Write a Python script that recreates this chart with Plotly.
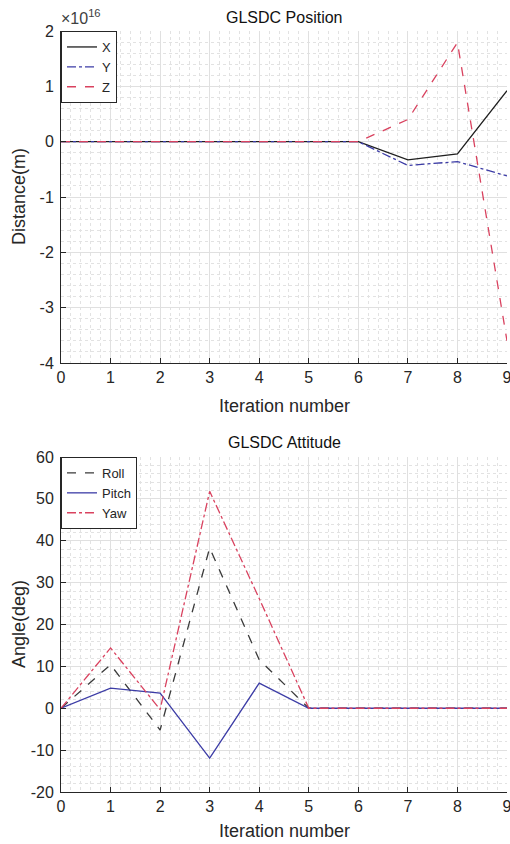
import plotly.graph_objects as go

iterations = [0, 1, 2, 3, 4, 5, 6, 7, 8, 9]

# Position (units of 1e16 m)
pos_x = [0, 0, 0, 0, 0, 0, 0, -0.33, -0.22, 0.92]
pos_y = [0, 0, 0, 0, 0, 0, 0, -0.43, -0.36, -0.62]
pos_z = [0, 0, 0, 0, 0, 0, 0, 0.40, 1.79, -3.60]

# Attitude (deg)
roll = [0, 10.4, -5.2, 38.3, 11.6, 0, 0, 0, 0, 0]
pitch = [0, 4.8, 3.6, -11.9, 6.0, 0, 0, 0, 0, 0]
yaw = [0, 14.4, -0.3, 51.8, 26.2, 0, 0, 0, 0, 0]

pos_ticks = [-4, -3, -2, -1, 0, 1, 2]
pos_tick_labels = ["-4", "-3", "-2", "-1", "0", "1", "2"]
att_ticks = [-20, -10, 0, 10, 20, 30, 40, 50, 60]
att_tick_labels = ["-20", "-10", "0", "10", "20", "30", "40", "50", "60"]
x_ticks = iterations
x_tick_labels = ["0", "1", "2", "3", "4", "5", "6", "7", "8", "9"]

BLACK = "#1f1f1f"
BLUE = "#3c3ca6"
RED = "#d9425f"
GRAY = "#3a3a3a"
FONT = "Liberation Sans, Arial, sans-serif"

fig = go.Figure()

fig.add_trace(go.Scatter(x=iterations, y=pos_x, name="X", mode="lines",
                         line=dict(color=BLACK, width=1.3, dash="solid"),
                         xaxis="x", yaxis="y", legend="legend"))
fig.add_trace(go.Scatter(x=iterations, y=pos_y, name="Y", mode="lines",
                         line=dict(color=BLUE, width=1.3, dash="dashdot"),
                         xaxis="x", yaxis="y", legend="legend"))
fig.add_trace(go.Scatter(x=iterations, y=pos_z, name="Z", mode="lines",
                         line=dict(color=RED, width=1.3, dash="dash"),
                         xaxis="x", yaxis="y", legend="legend"))

fig.add_trace(go.Scatter(x=iterations, y=roll, name="Roll", mode="lines",
                         line=dict(color=GRAY, width=1.3, dash="dash"),
                         xaxis="x2", yaxis="y2", legend="legend2"))
fig.add_trace(go.Scatter(x=iterations, y=pitch, name="Pitch", mode="lines",
                         line=dict(color=BLUE, width=1.3, dash="solid"),
                         xaxis="x2", yaxis="y2", legend="legend2"))
fig.add_trace(go.Scatter(x=iterations, y=yaw, name="Yaw", mode="lines",
                         line=dict(color=RED, width=1.3, dash="dashdot"),
                         xaxis="x2", yaxis="y2", legend="legend2"))

W, H = 510, 844
x0, x1 = 61 / W, 507 / W
top_dom = [(H - 363) / H, (H - 31) / H]
bot_dom = [(H - 792) / H, (H - 457) / H]

common_axis = dict(
    showline=True, linecolor="#262626", linewidth=1,
    ticks="inside", ticklen=5, tickcolor="#262626",
    tickfont=dict(family=FONT, size=16, color="#262626"),
    showgrid=True, gridcolor="#e0e0e0", gridwidth=1,
    zeroline=False, mirror=False, automargin=False,
    ticklabeloverflow="allow", tickmode="array",
)

minor_x = dict(dtick=0.2, showgrid=True, gridcolor="#e2e2e2", griddash="dot", ticks="")

fig.update_layout(
    width=W, height=H,
    margin=dict(l=0, r=0, t=0, b=0),
    paper_bgcolor="white", plot_bgcolor="white",
    font=dict(family=FONT, color="#262626"),
    xaxis=dict(domain=[x0, x1], anchor="y", range=[0, 9],
               tickvals=x_ticks, ticktext=x_tick_labels, minor=minor_x, **common_axis),
    yaxis=dict(domain=top_dom, anchor="x", range=[-4, 2],
               tickvals=pos_ticks, ticktext=pos_tick_labels, ticklabelstandoff=3,
               minor=dict(dtick=0.2, showgrid=True, gridcolor="#e2e2e2", griddash="dot", ticks=""),
               **common_axis),
    xaxis2=dict(domain=[x0, x1], anchor="y2", range=[0, 9],
                tickvals=x_ticks, ticktext=x_tick_labels, minor=minor_x, **common_axis),
    yaxis2=dict(domain=bot_dom, anchor="x2", range=[-20, 60],
                tickvals=att_ticks, ticktext=att_tick_labels, ticklabelstandoff=3,
                minor=dict(dtick=2, showgrid=True, gridcolor="#e2e2e2", griddash="dot", ticks=""),
                **common_axis),
    legend=dict(x=x0, y=top_dom[1], xanchor="left", yanchor="top",
                bgcolor="white", bordercolor="#262626", borderwidth=1,
                font=dict(family=FONT, size=13, color="#262626"),
                tracegroupgap=0, itemwidth=30),
    legend2=dict(x=x0, y=bot_dom[1], xanchor="left", yanchor="top",
                 bgcolor="white", bordercolor="#262626", borderwidth=1,
                 font=dict(family=FONT, size=13, color="#262626"),
                 tracegroupgap=0, itemwidth=30),
    showlegend=True,
    annotations=[
        dict(text="GLSDC Position", x=(x0 + x1) / 2, y=(H - 17) / H, xref="paper", yref="paper",
             showarrow=False, font=dict(family=FONT, size=16, color="#111111"), xanchor="center", yanchor="middle"),
        dict(text="GLSDC Attitude", x=(x0 + x1) / 2, y=(H - 443) / H, xref="paper", yref="paper",
             showarrow=False, font=dict(family=FONT, size=16, color="#111111"), xanchor="center", yanchor="middle"),
        dict(text="×10<sup>16</sup>", x=59 / W, y=(H - 17) / H, xref="paper", yref="paper",
             showarrow=False, font=dict(family=FONT, size=16, color="#404040"), xanchor="left", yanchor="middle"),
        dict(text="Distance(m)", x=19 / W, y=(H - 197) / H, xref="paper", yref="paper", textangle=-90,
             showarrow=False, font=dict(family=FONT, size=18, color="#262626"), xanchor="center", yanchor="middle"),
        dict(text="Angle(deg)", x=19 / W, y=(H - 624) / H, xref="paper", yref="paper", textangle=-90,
             showarrow=False, font=dict(family=FONT, size=18, color="#262626"), xanchor="center", yanchor="middle"),
        dict(text="Iteration number", x=(x0 + x1) / 2, y=(H - 406) / H, xref="paper", yref="paper",
             showarrow=False, font=dict(family=FONT, size=18, color="#262626"), xanchor="center", yanchor="middle"),
        dict(text="Iteration number", x=(x0 + x1) / 2, y=(H - 831) / H, xref="paper", yref="paper",
             showarrow=False, font=dict(family=FONT, size=18, color="#262626"), xanchor="center", yanchor="middle"),
    ],
)

fig.write_html("out.html",
               config={"displayModeBar": False},
               post_script="document.body.style.margin='0';document.body.style.overflow='hidden';")
